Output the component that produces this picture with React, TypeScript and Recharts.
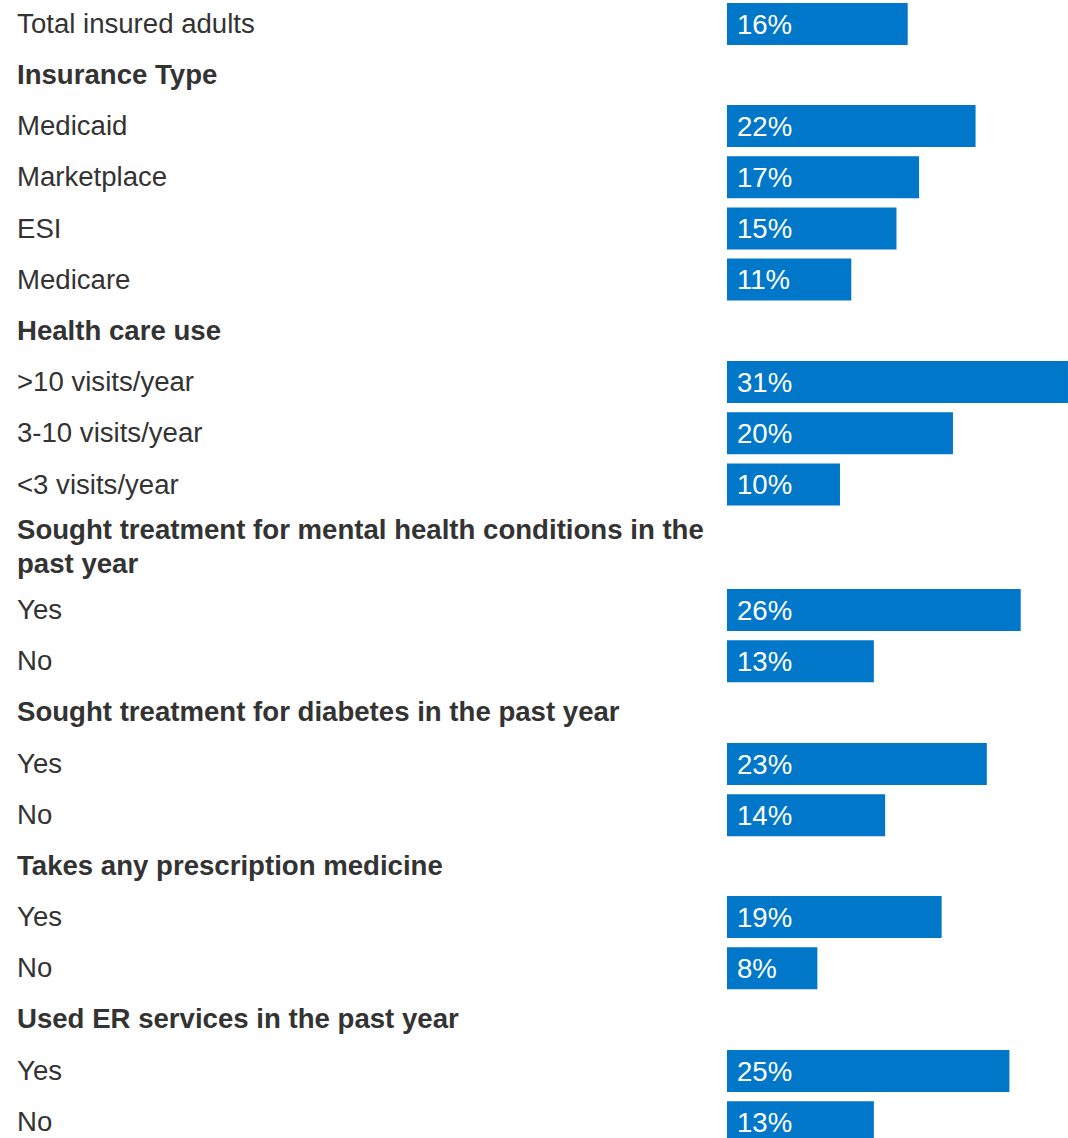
import { BarChart, Bar, XAxis, YAxis, LabelList } from "recharts";

const totalLabels = ["Total insured adults"];
const totalValues = [16];

const insuranceHeader = "Insurance Type";
const insuranceLabels = ["Medicaid", "Marketplace", "ESI", "Medicare"];
const insuranceValues = [22, 17, 15, 11];

const useHeader = "Health care use";
const useLabels = [">10 visits/year", "3-10 visits/year", "<3 visits/year"];
const useValues = [31, 20, 10];

const mentalHeader = "Sought treatment for mental health conditions in the past year";
const mentalLabels = ["Yes", "No"];
const mentalValues = [26, 13];

const diabetesHeader = "Sought treatment for diabetes in the past year";
const diabetesLabels = ["Yes", "No"];
const diabetesValues = [23, 14];

const rxHeader = "Takes any prescription medicine";
const rxLabels = ["Yes", "No"];
const rxValues = [19, 8];

const erHeader = "Used ER services in the past year";
const erLabels = ["Yes", "No"];
const erValues = [25, 13];

const FONT = '"Liberation Sans", Arial, Helvetica, sans-serif';
const BLUE = "#0077c8";
const TEXT = "#333333";
const ROW = 51.2;
const FS = 27.6;

const sections = [
  { header: null, labels: totalLabels, values: totalValues },
  { header: insuranceHeader, labels: insuranceLabels, values: insuranceValues },
  { header: useHeader, labels: useLabels, values: useValues },
  { header: mentalHeader, labels: mentalLabels, values: mentalValues },
  { header: diabetesHeader, labels: diabetesLabels, values: diabetesValues },
  { header: rxHeader, labels: rxLabels, values: rxValues },
  { header: erHeader, labels: erLabels, values: erValues },
];

function RowLabel(props: any) {
  const { y, payload } = props;
  return (
    <text x={17} y={y} dy="0.35em" textAnchor="start" fontSize={FS} fill={TEXT} fontFamily={FONT}>
      {payload.value}
    </text>
  );
}

function Section({ header, labels, values }: { header: string | null; labels: string[]; values: number[] }) {
  const data = labels.map((label, i) => ({ label, value: values[i] }));
  const twoLines = header !== null && header.length > 50;
  return (
    <div>
      {header && (
        <div
          style={{
            height: twoLines ? 74 : ROW,
            display: "flex",
            alignItems: "center",
            paddingLeft: 17,
            width: 700,
            fontFamily: FONT,
            fontSize: FS,
            fontWeight: 700,
            lineHeight: "34px",
            color: TEXT,
          }}
        >
          {header}
        </div>
      )}
      <BarChart
        width={1068}
        height={ROW * data.length}
        data={data}
        layout="vertical"
        margin={{ top: 0, right: 0, bottom: 0, left: 0 }}
      >
        <XAxis type="number" domain={[0, 30.18]} allowDataOverflow hide />
        <YAxis
          type="category"
          dataKey="label"
          width={727}
          axisLine={false}
          tickLine={false}
          interval={0}
          tick={<RowLabel />}
        />
        <Bar dataKey="value" fill={BLUE} barSize={42} isAnimationActive={false}>
          <LabelList
            dataKey="value"
            position="insideLeft"
            offset={10}
            formatter={(v: any) => `${v}%`}
            fill="#ffffff"
            fontSize={FS}
            fontFamily={FONT}
          />
        </Bar>
      </BarChart>
    </div>
  );
}

export default function App() {
  return (
    <div
      style={{
        position: "absolute",
        top: -2,
        left: 0,
        width: 1068,
        height: 1140,
        overflow: "hidden",
        background: "#ffffff",
      }}
    >
      {sections.map((s, i) => (
        <Section key={i} header={s.header} labels={s.labels} values={s.values} />
      ))}
    </div>
  );
}
